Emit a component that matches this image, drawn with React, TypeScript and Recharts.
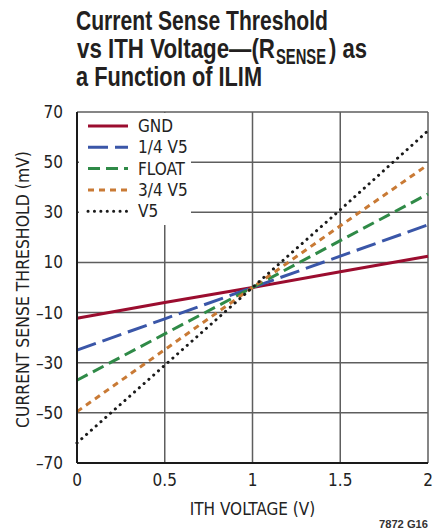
import { LineChart, Line, XAxis, YAxis, CartesianGrid, Legend, Label } from 'recharts'

const ithVolts = [0, 0.5, 1, 1.5, 2]
const gnd = [-12.3, -6, 0, 6.3, 12.5]
const quarterV5 = [-25, -12.5, 0, 12.5, 25]
const floatPin = [-37, -18.5, 0, 18.7, 37.3]
const threeQuarterV5 = [-49.5, -24.8, 0, 24.6, 49]
const v5 = [-62, -31, 0, 31, 62.5]

const xTicks = [0, 0.5, 1, 1.5, 2]
const yTicks = [-70, -50, -30, -10, 10, 30, 50, 70]

const FONT = "'DejaVu Sans Condensed', 'Liberation Sans', sans-serif"
const TITLE_FONT = "'Liberation Sans', Arial, sans-serif"
// condensed look for the bold title
const SQ = 0.75

const series = [
  { key: 'gnd', name: 'GND', color: '#9b0d2f', dash: undefined, cap: 'butt' },
  { key: 'quarter', name: '1/4 V5', color: '#3a56a8', dash: '20 7', cap: 'butt' },
  { key: 'float', name: 'FLOAT', color: '#2f8a47', dash: '12 6', cap: 'butt' },
  { key: 'threeQuarter', name: '3/4 V5', color: '#c97a35', dash: '6 5', cap: 'butt' },
  { key: 'v5', name: 'V5', color: '#1a1a1a', dash: '0.1 6.3', cap: 'round' },
]

const data = ithVolts.map((x, i) => ({
  x,
  gnd: gnd[i],
  quarter: quarterV5[i],
  float: floatPin[i],
  threeQuarter: threeQuarterV5[i],
  v5: v5[i],
}))

const fmtY = (v: number) => (v < 0 ? `–${-v}` : `${v}`)

function ThresholdLegend() {
  return (
    <div style={{ background: '#fff', width: 112, height: 112 }}>
      <svg width={112} height={112}>
        {series.map((s, i) => {
          const y = 13 + i * 21.3
          return (
            <g key={s.key}>
              <line x1={9} x2={49} y1={y} y2={y} stroke={s.color} strokeWidth={3}
                strokeDasharray={s.dash} strokeLinecap={s.cap as 'butt' | 'round'} />
              <text x={59} y={y} dominantBaseline="central" fontFamily={FONT} fontSize={17} fill="#222">
                {s.name}
              </text>
            </g>
          )
        })}
      </svg>
    </div>
  )
}

export default function App() {
  return (
    <div style={{ position: 'absolute', left: 0, top: 0, width: 433, height: 529, background: '#fff', fontFamily: FONT }}>
      <LineChart width={433} height={529} data={data} margin={{ top: 112, right: 5, bottom: 0, left: 0 }}>
        <CartesianGrid stroke="#5e5e5e" strokeWidth={1.5} />
        <XAxis dataKey="x" type="number" domain={[0, 2]} ticks={xTicks} height={66}
          axisLine={{ stroke: '#1a1a1a', strokeWidth: 2 }} tickLine={false} tickSize={6} tickMargin={5}
          tick={{ fontSize: 17, fill: '#222', fontFamily: FONT }}>
          <Label value="ITH VOLTAGE (V)" position="insideBottom" offset={14}
            style={{ fontSize: 17, fill: '#222', fontFamily: FONT }} />
        </XAxis>
        <YAxis type="number" domain={[-70, 70]} ticks={yTicks} width={77} tickFormatter={fmtY}
          axisLine={{ stroke: '#1a1a1a', strokeWidth: 2 }} tickLine={false} tickSize={6} tickMargin={8}
          tick={{ fontSize: 17, fill: '#222', fontFamily: FONT }}>
          <Label
            content={(props: any) => {
              const vb = props.viewBox
              const cx = vb.x + 23
              const cy = vb.y + vb.height / 2 + 2
              return (
                <text x={cx} y={cy} transform={`rotate(-90 ${cx} ${cy})`} textAnchor="middle"
                  dominantBaseline="central" fontSize={17} fill="#222" fontFamily={FONT}
                  textLength={277} lengthAdjust="spacingAndGlyphs">
                  CURRENT SENSE THRESHOLD (mV)
                </text>
              )
            }}
          />
        </YAxis>
        <Legend layout="vertical" align="center" verticalAlign="middle" content={<ThresholdLegend />}
          wrapperStyle={{ left: 79, top: 113, width: 112, height: 112 }} />
        {series.map((s) => (
          <Line key={s.key} dataKey={s.key} name={s.name} type="linear" stroke={s.color} strokeWidth={3}
            strokeDasharray={s.dash} strokeLinecap={s.cap as 'butt' | 'round'} dot={false}
            activeDot={false} isAnimationActive={false} />
        ))}
      </LineChart>
      <svg width={433} height={100} style={{ position: 'absolute', left: 0, top: 0, pointerEvents: 'none' }}>
        <g transform={`translate(76 0) scale(${SQ} 1)`} fontFamily={TITLE_FONT} fontWeight={700} fontSize={28} fill="#231f20">
          <text x={0} y={30} textLength={252 / SQ} lengthAdjust="spacingAndGlyphs">Current Sense Threshold</text>
          <text x={1 / SQ} y={58} textLength={198 / SQ} lengthAdjust="spacingAndGlyphs">vs ITH Voltage—(R</text>
          <text x={200 / SQ} y={64} fontSize={22} textLength={50 / SQ} lengthAdjust="spacingAndGlyphs">SENSE</text>
          <text x={253 / SQ} y={58} textLength={38 / SQ} lengthAdjust="spacingAndGlyphs">) as</text>
          <text x={0} y={86} textLength={186 / SQ} lengthAdjust="spacingAndGlyphs">a Function of ILIM</text>
        </g>
      </svg>
      <svg width={433} height={529} style={{ position: 'absolute', left: 0, top: 0, pointerEvents: 'none' }}>
        <text x={428} y={528} textAnchor="end" fontFamily={TITLE_FONT} fontWeight={700} fontSize={11}
          fill="#333" textLength={49} lengthAdjust="spacingAndGlyphs">7872 G16</text>
      </svg>
    </div>
  )
}
